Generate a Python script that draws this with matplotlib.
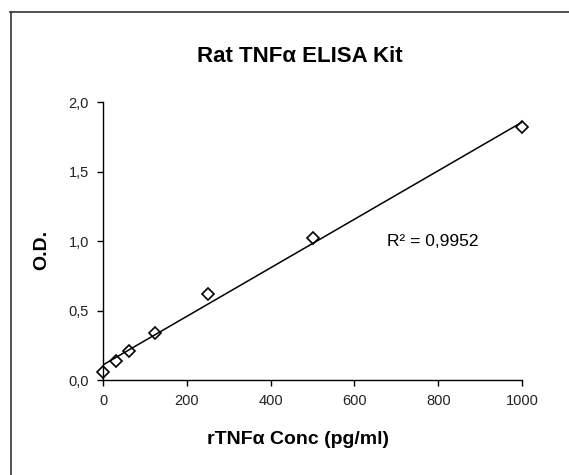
import matplotlib
matplotlib.use('Agg')
import matplotlib.pyplot as plt
import numpy as np
from matplotlib.lines import Line2D
from matplotlib.ticker import FuncFormatter

plt.rcParams['font.family'] = ['Liberation Sans', 'DejaVu Sans']

# standard curve values
conc = [0, 31.25, 62.5, 125, 250, 500, 1000]
od = [0.060, 0.136, 0.210, 0.335, 0.621, 1.018, 1.818]
r2_label = 'R² = 0,9952'
x_ticks = [0, 200, 400, 600, 800, 1000]
y_ticks = [0.0, 0.5, 1.0, 1.5, 2.0]

W, H = 569, 475
fig = plt.figure(figsize=(W / 100, H / 100), dpi=100)
ax = fig.add_axes([103 / W, 1 - 380 / H, (522 - 103) / W, (380 - 102) / H])

# linear trendline
slope, intercept = np.polyfit(conc, od, 1)
xs = np.array([0, 1000])
ax.plot(xs, slope * xs + intercept, color='black', lw=1.1, zorder=2)

ax.plot(conc, od, linestyle='none', marker='D', markersize=6.5,
        markerfacecolor='none', markeredgecolor='black', markeredgewidth=1.2,
        zorder=3, clip_on=False)

ax.text(678, 1.0, r2_label, fontsize=12.5, ha='left', va='center')

ax.set_xlim(0, 1000)
ax.set_ylim(0, 2.0)
ax.set_xticks(x_ticks)
ax.set_yticks(y_ticks)
ax.yaxis.set_major_formatter(FuncFormatter(lambda v, p: f'{v:.1f}'.replace('.', ',')))
ax.tick_params(direction='out', length=4, width=1, labelsize=10.5, colors='black',
               labelcolor='#222222', pad=6)
for s in ['top', 'right']:
    ax.spines[s].set_visible(False)
for s in ['left', 'bottom']:
    ax.spines[s].set_linewidth(1)

fig.text(300 / W, 1 - 56 / H, 'Rat TNFα ELISA Kit', fontsize=16, fontweight='bold',
         ha='center', va='center')
fig.text(298 / W, 1 - 440 / H, 'rTNFα Conc (pg/ml)', fontsize=14, fontweight='bold',
         ha='center', va='center')
fig.text(42 / W, 1 - 250 / H, 'O.D.', fontsize=14, fontweight='bold',
         ha='center', va='center', rotation=90)

# chart area border (left and top edges visible)
fig.add_artist(Line2D([10.5 / W, 10.5 / W], [0, 1 - 11.5 / H], transform=fig.transFigure,
                      color='#333333', lw=1.2))
fig.add_artist(Line2D([10 / W, 1], [1 - 11.5 / H, 1 - 11.5 / H], transform=fig.transFigure,
                      color='#333333', lw=1.2))

fig.savefig('out.png', dpi=100)
